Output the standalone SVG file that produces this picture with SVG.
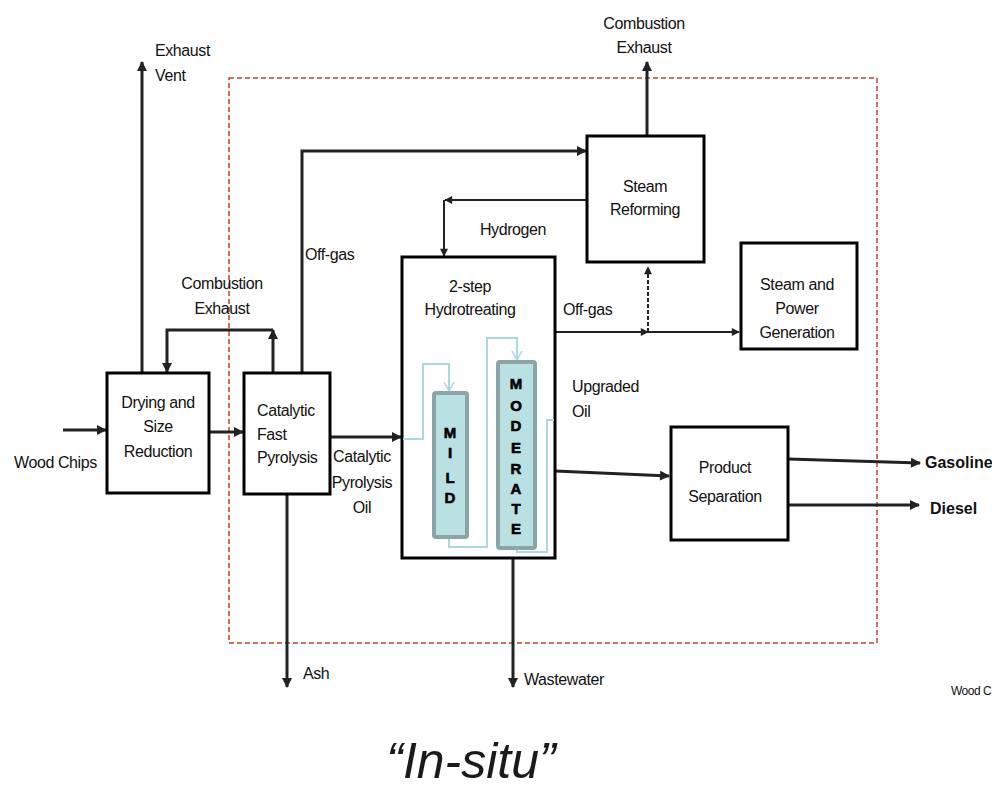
<svg xmlns="http://www.w3.org/2000/svg" width="992" height="789" viewBox="0 0 992 789">
<defs>
<marker id="ah" viewBox="0 0 10 10" refX="9" refY="5" markerWidth="11" markerHeight="10" orient="auto" markerUnits="userSpaceOnUse"><path d="M0,0 L10,5 L0,10 z" fill="#222"/></marker>
<marker id="ahs" viewBox="0 0 10 10" refX="9" refY="5" markerWidth="9" markerHeight="8" orient="auto" markerUnits="userSpaceOnUse"><path d="M0,0 L10,5 L0,10 z" fill="#222"/></marker>
<marker id="ahb" viewBox="0 0 10 10" refX="9" refY="5" markerWidth="10" markerHeight="12" orient="auto" markerUnits="userSpaceOnUse"><path d="M0,0 L9,5 L0,10" fill="none" stroke="#a9d9dd" stroke-width="1.5"/></marker>
</defs>
<style>
.box{fill:#fff;stroke:#000;stroke-width:3}
.t{font-family:"Liberation Sans",Arial,sans-serif;font-size:16px;fill:#111;letter-spacing:-0.4px}
.c{text-anchor:middle}
.b{font-weight:bold;letter-spacing:0}
.ln{fill:none;stroke:#222;stroke-width:3}
.thin{fill:none;stroke:#222;stroke-width:2}
.blue{fill:none;stroke:#a9d9dd;stroke-width:2}
.col{fill:#b9e0e3;stroke:#8ba5a7;stroke-width:4}
.lt{font-family:"Liberation Sans",Arial,sans-serif;font-size:15px;font-weight:bold;fill:#000;text-anchor:middle;stroke:#000;stroke-width:0.6}
</style>
<rect width="992" height="789" fill="#fff"/>
<rect x="229" y="78" width="648" height="565" fill="none" stroke="#c0461a" stroke-width="1.5" stroke-dasharray="5,3"/>

<g id="connectors">
<line class="ln" x1="63" y1="430" x2="106" y2="430" marker-end="url(#ah)"/>
<line class="ln" x1="142" y1="373" x2="142" y2="62" marker-end="url(#ah)"/>
<line class="ln" x1="209" y1="432" x2="243" y2="432" marker-end="url(#ah)"/>
<polyline class="ln" points="273,373 273,330" marker-end="url(#ah)"/>
<polyline class="ln" points="273,330 167,330 167,372" marker-end="url(#ah)"/>
<polyline class="ln" points="302,373 302,151 586,151" marker-end="url(#ah)"/>
<line class="ln" x1="647" y1="136" x2="647" y2="62" marker-end="url(#ah)"/>
<polyline class="thin" points="587,200 445,200" marker-end="url(#ahs)"/>
<polyline class="thin" points="444,200 444,256" marker-end="url(#ahs)"/>
<line class="ln" x1="330" y1="437" x2="401" y2="437" marker-end="url(#ah)"/>
<line class="thin" x1="555" y1="332" x2="648" y2="332" marker-end="url(#ahs)"/>
<line class="thin" x1="648" y1="332" x2="739" y2="332" marker-end="url(#ahs)"/>
<line x1="648" y1="332" x2="648" y2="267" stroke="#222" stroke-width="2" stroke-dasharray="4,2" marker-end="url(#ahs)"/>
<line class="ln" x1="555" y1="471" x2="669" y2="476" marker-end="url(#ah)"/>
<line class="ln" x1="788" y1="459" x2="920" y2="463" marker-end="url(#ah)"/>
<line class="ln" x1="788" y1="505" x2="919" y2="505" marker-end="url(#ah)"/>
<line class="ln" x1="287" y1="494" x2="287" y2="687" marker-end="url(#ah)"/>
<line class="ln" x1="513" y1="559" x2="513" y2="687" marker-end="url(#ah)"/>
</g>

<g id="drying">
<rect class="box" x="107" y="373" width="102" height="120"/>
<text class="t c" x="158" y="408">Drying and</text>
<text class="t c" x="158" y="432">Size</text>
<text class="t c" x="158" y="457">Reduction</text>
</g>

<g id="pyrolysis">
<rect class="box" x="244" y="373" width="86" height="121"/>
<text class="t" x="257" y="416">Catalytic</text>
<text class="t" x="257" y="440">Fast</text>
<text class="t" x="257" y="463">Pyrolysis</text>
</g>

<g id="steam-reforming">
<rect class="box" x="587" y="136" width="117" height="126"/>
<text class="t c" x="645" y="192">Steam</text>
<text class="t c" x="645" y="215">Reforming</text>
</g>

<g id="hydrotreating">
<rect class="box" x="402" y="257" width="153" height="301"/>
<text class="t c" x="470" y="292">2-step</text>
<text class="t c" x="470" y="315">Hydrotreating</text>
<polyline class="blue" points="403,439 423,439 423,364 449,364 449,391" marker-end="url(#ahb)"/>
<polyline class="blue" points="449,537 449,547 487,547 487,338 517,338 517,360" marker-end="url(#ahb)"/>
<polyline class="blue" points="517,548 517,552 547,552 547,420 554,420"/>
<rect class="col" x="434" y="393" width="33" height="144" rx="2"/>
<rect class="col" x="498" y="362" width="37" height="186" rx="2"/>
<text class="lt" x="450" y="438">M</text>
<text class="lt" x="450" y="458">I</text>
<text class="lt" x="450" y="483">L</text>
<text class="lt" x="450" y="503">D</text>
<text class="lt" x="516" y="389">M</text>
<text class="lt" x="516" y="411">O</text>
<text class="lt" x="516" y="431">D</text>
<text class="lt" x="516" y="453">E</text>
<text class="lt" x="516" y="474">R</text>
<text class="lt" x="516" y="494">A</text>
<text class="lt" x="516" y="514">T</text>
<text class="lt" x="516" y="534">E</text>
</g>

<g id="steam-power">
<rect class="box" x="741" y="243" width="116" height="106"/>
<text class="t c" x="797" y="290">Steam and</text>
<text class="t c" x="797" y="314">Power</text>
<text class="t c" x="797" y="338">Generation</text>
</g>

<g id="product-separation">
<rect class="box" x="671" y="427" width="117" height="113"/>
<text class="t c" x="725" y="473">Product</text>
<text class="t c" x="725" y="502">Separation</text>
</g>

<g id="labels">
<text class="t" x="14" y="468">Wood Chips</text>
<text class="t" x="155" y="56">Exhaust</text>
<text class="t" x="155" y="81">Vent</text>
<text class="t c" x="222" y="289">Combustion</text>
<text class="t c" x="222" y="314">Exhaust</text>
<text class="t" x="305" y="260">Off-gas</text>
<text class="t c" x="644" y="29">Combustion</text>
<text class="t c" x="644" y="53">Exhaust</text>
<text class="t c" x="513" y="235">Hydrogen</text>
<text class="t c" x="362" y="462">Catalytic</text>
<text class="t c" x="362" y="488">Pyrolysis</text>
<text class="t c" x="362" y="513">Oil</text>
<text class="t" x="563" y="315">Off-gas</text>
<text class="t" x="572" y="392">Upgraded</text>
<text class="t" x="572" y="417">Oil</text>
<text class="t b" x="925" y="468">Gasoline</text>
<text class="t b" x="930" y="514">Diesel</text>
<text class="t" x="303" y="679">Ash</text>
<text class="t" x="524" y="685">Wastewater</text>
<text class="t" x="951" y="695" style="font-size:12px;letter-spacing:-0.5px">Wood C</text>
<text x="471" y="778" text-anchor="middle" style="font-family:'Liberation Sans',Arial,sans-serif;font-size:50px;font-style:italic;fill:#1a1a1a">“In-situ”</text>
</g>
</svg>
